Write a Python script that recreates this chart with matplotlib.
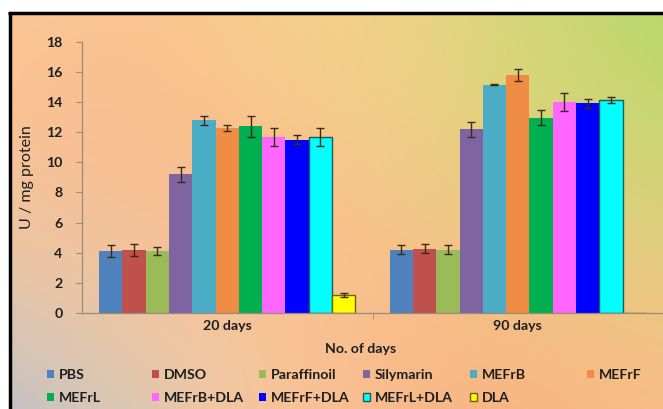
import numpy as np
import matplotlib
matplotlib.use("Agg")
import matplotlib.pyplot as plt

plt.rcParams['font.family'] = ['Lato', 'DejaVu Sans']
plt.rcParams['font.weight'] = 'bold'

groups = ["20 days", "90 days"]
series = ["PBS", "DMSO", "Paraffinoil", "Silymarin", "MEFrB", "MEFrF",
          "MEFrL", "MEFrB+DLA", "MEFrF+DLA", "MEFrL+DLA", "DLA"]
values_20 = [4.1, 4.2, 4.1, 9.2, 12.8, 12.3, 12.4, 11.7, 11.5, 11.7, 1.2]
errors_20 = [0.4, 0.4, 0.25, 0.5, 0.3, 0.2, 0.7, 0.6, 0.3, 0.6, 0.15]
values_90 = [4.2, 4.25, 4.2, 12.2, 15.15, 15.8, 12.95, 14.0, 13.9, 14.1, 0.0]
errors_90 = [0.3, 0.3, 0.3, 0.5, 0.05, 0.4, 0.5, 0.6, 0.3, 0.2, 0.0]
colors = ["#4F81BD", "#C0504D", "#9BBB59", "#8064A2", "#4BACC6", "#F08C44",
          "#00B050", "#FF66FF", "#0000FF", "#00FFFF", "#FFFF00"]
edges = [None] * 9 + ["#1f5a5a", "#6b6400"]
yticks = [0, 2, 4, 6, 8, 10, 12, 14, 16, 18]

W, H = 663, 409
FS = 10.2
TXT = "#1e1e1e"
fig = plt.figure(figsize=(W / 100, H / 100), dpi=100)
fig.patch.set_facecolor("white")

# background gradient
bg = fig.add_axes([0, 0, 1, 1], zorder=-10)
anchors = [
    (30, 40, "#FCC896"), (300, 30, "#FAD18E"), (460, 30, "#ECD784"),
    (650, 15, "#A0D860"), (650, 160, "#C8D872"), (560, 90, "#D4D876"),
    (120, 190, "#F7AA84"), (350, 200, "#FBC08C"), (540, 250, "#FAC88C"),
    (15, 405, "#92B6E2"), (110, 330, "#FCD6A6"), (300, 395, "#F9C498"),
    (500, 385, "#F7AA7E"), (650, 390, "#FAC088"), (40, 250, "#FBD0A0"),
]
yy, xx = np.mgrid[0:H, 0:W]
num = np.zeros((H, W, 3))
den = np.zeros((H, W))
for ax_, ay_, c in anchors:
    rgb = np.array(matplotlib.colors.to_rgb(c))
    s = 110.0
    w = np.exp(-((xx - ax_) ** 2 + (yy - ay_) ** 2) / (2 * s * s)) + 1e-9
    num += w[..., None] * rgb
    den += w
img = num / den[..., None]
img[:12, :, :] = 1.0
img[:, :9, :] = 1.0
bg.imshow(img, extent=[0, W, H, 0], aspect="auto", interpolation="bilinear")
bg.set_xlim(0, W)
bg.set_ylim(H, 0)
bg.axis("off")
bg.plot([8, W], [12.5, 12.5], color="black", lw=2.5, solid_capstyle="butt")
bg.plot([9.5, 9.5], [12, H], color="black", lw=2.5, solid_capstyle="butt")

ax = fig.add_axes([82 / W, 1 - 313 / H, (W - 82) / W, (313 - 41.7) / H])
ax.patch.set_alpha(0)
n = len(series)
bw = 0.0802
x = np.arange(len(groups))
handles = []
for i in range(n):
    off = (i - (n - 1) / 2) * bw
    vals = [values_20[i], values_90[i]]
    errs = [errors_20[i], errors_90[i]]
    kw = {}
    if edges[i]:
        kw = dict(edgecolor=edges[i], linewidth=1.0)
    b = ax.bar(x + off, vals, bw, color=colors[i], label=series[i], zorder=2, **kw)
    for xi, v, e in zip(x + off, vals, errs):
        if v > 0:
            ax.errorbar(xi, v, yerr=e, fmt="none", ecolor="#3a2c12", elinewidth=1.0,
                        capsize=3, capthick=1.0, zorder=3)
    handles.append(b)

ax.set_xlim(-0.5, 1.5)
ax.set_ylim(0, 18)
ax.set_yticks(yticks)
ax.set_xticks(x)
ax.set_xticklabels(groups)
ax.set_xticks([0.5], minor=True)
ax.tick_params(axis="x", which="major", length=0, pad=5, labelsize=FS, colors=TXT)
ax.tick_params(axis="x", which="minor", length=4, color="#9a8a7a")
ax.tick_params(axis="y", length=4, width=0.8, color="#9a8a7a", pad=10,
               labelsize=FS, labelcolor=TXT)
for s in ["top", "right"]:
    ax.spines[s].set_visible(False)
for s in ["left", "bottom"]:
    ax.spines[s].set_color("#9a8a7a")
    ax.spines[s].set_linewidth(0.9)
ax.set_ylabel("U / mg protein", fontsize=11.5, color=TXT, labelpad=9)

fig.text(361 / W, 1 - 349 / H, "No. of days", ha="center", va="center",
         fontsize=FS, color=TXT, fontweight="bold")

# legend: per-column placement
colx = [47, 152, 259, 363, 470, 587]
columns = [[0, 6], [1, 7], [2, 8], [3, 9], [4, 10], [5]]
for cx, idxs in zip(colx, columns):
    leg = fig.legend([handles[i] for i in idxs], [series[i] for i in idxs],
                     loc="upper left", bbox_to_anchor=(cx / W, 1 - 369 / H),
                     frameon=False, borderpad=0, borderaxespad=0,
                     handlelength=0.5, handleheight=0.5, handletextpad=0.35,
                     labelspacing=0.8, fontsize=FS)
    for t in leg.get_texts():
        t.set_color(TXT)
        t.set_fontweight("bold")

fig.savefig("out.png", dpi=100)
